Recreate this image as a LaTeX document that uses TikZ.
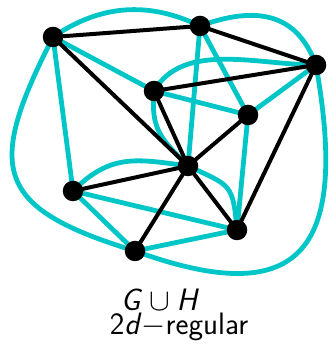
\RequirePackage{fix-cm}
\documentclass[tikz,border=0pt]{standalone}
\usepackage{tikz}
\usetikzlibrary{backgrounds}
\definecolor{tealline}{RGB}{0,198,200}
\tikzset{
  vtx/.style={circle, fill=black, inner sep=0pt, minimum size=20.5pt},
  gedge/.style={line width=4pt, black},
  hedge/.style={line width=4.8pt, tealline},
  caption/.style={font=\sffamily\fontsize{31}{24}\selectfont, inner sep=0pt, align=center}
}

\begin{document}
\begin{tikzpicture}[x=1pt,y=1pt]
\useasboundingbox (0,0) rectangle (329,344);
% vertices
\node[vtx] (a) at (53,307) {}; \node[vtx] (b) at (200,318) {}; \node[vtx] (c) at (316,279) {};
\node[vtx] (d) at (154,253) {}; \node[vtx] (e) at (248,229) {}; \node[vtx] (f) at (188,178) {};
\node[vtx] (g) at (73,153) {};  \node[vtx] (h) at (237,114) {}; \node[vtx] (i) at (135,93) {};
\begin{scope}[on background layer]
% H
\draw[hedge] (a.center) to[bend left=30] (b.center);
\draw[hedge] (b.center) to[out=20,in=110,looseness=1.2] (c.center);
\draw[hedge] (d.center) to[out=60,in=180,looseness=0.9] (c.center);
\draw[hedge] (d.center) to[out=-95,in=135,looseness=1.2] (f.center);
\draw[hedge] (g.center) to[out=45,in=172,looseness=1.15] (f.center);
\draw[hedge] (f.center) to[out=-25,in=95,looseness=1.5] (h.center);
\draw[hedge] (a.center) to[out=-117,in=163,looseness=1.65] (i.center);
\draw[hedge] (c.center) to[out=-80,in=-20,looseness=1.8] (i.center);
\draw[hedge] (a.center) -- (d.center); \draw[hedge] (a.center) -- (g.center);
\draw[hedge] (b.center) -- (f.center); \draw[hedge] (b.center) -- (e.center);
\draw[hedge] (c.center) -- (e.center); \draw[hedge] (d.center) -- (e.center);
\draw[hedge] (e.center) -- (h.center); \draw[hedge] (g.center) -- (h.center);
\draw[hedge] (g.center) -- (i.center); \draw[hedge] (i.center) -- (h.center);
% G
\draw[gedge] (a.center) -- (b.center); \draw[gedge] (b.center) -- (c.center);
\draw[gedge] (a.center) -- (f.center); \draw[gedge] (d.center) -- (c.center);
\draw[gedge] (d.center) -- (f.center); \draw[gedge] (e.center) -- (f.center);
\draw[gedge] (g.center) -- (f.center); \draw[gedge] (f.center) -- (i.center);
\draw[gedge] (f.center) -- (h.center); \draw[gedge] (c.center) -- (h.center);
\end{scope}
% label
\node[caption, anchor=south] (lbl) at (179,3)
  {$\textsf{\textit{G}}\cup\textsf{\textit{H}}$\hspace*{38pt}\\$\textsf{2}\textsf{\textit{d}}-$regular};
\end{tikzpicture}
\end{document}
